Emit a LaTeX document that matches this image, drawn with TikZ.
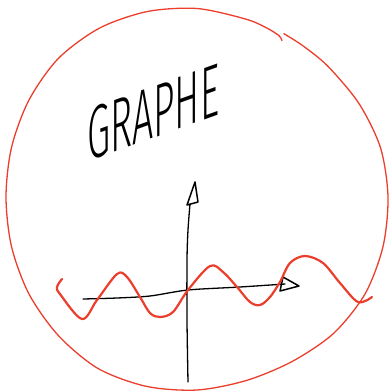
\documentclass[tikz,border=0pt]{standalone}
\usepackage{fontspec}
\IfFontExistsTF{Fira Sans Light}{\newfontfamily\handfont{Fira Sans Light}}{\newfontfamily\handfont{Liberation Sans}}
\definecolor{sketchred}{RGB}{236,62,44}
\tikzset{
  circstroke/.style={draw=sketchred, line width=1.3pt, line cap=round, line join=round},
  wavestroke/.style={draw=sketchred, line width=2.2pt, line cap=round, line join=round},
  axisstroke/.style={draw=black, line width=1.5pt, line cap=round, line join=round},
}
\begin{document}
\begin{tikzpicture}[x=1pt,y=-1pt]
\useasboundingbox (0,0) rectangle (391,392);
% hand-drawn circle (polar points about the centre)
\begin{scope}[shift={(197,197)}]
\draw[circstroke] plot[smooth] coordinates {
  (-61.5:178) (-63:181) (-68:183) (-75:184.5) (-90:188.5) (-105:192) (-120:195)
  (-135:196) (-150:194) (-165:192) (-180:191) (-195:192) (-210:194)
  (-225:196) (-240:198) (-255:196) (-270:193) (-285:190) (-300:190)
  (-315:193) (-330:194) (-345:192.5) (-360:191) (-375:190) (-390:187)
  (-405:185) (-415:184.6) (-422:185)};
\end{scope}
% axes
\coordinate (yb) at (188,382);
\coordinate (yt) at (190,204);
\draw[axisstroke, line width=1.3pt] plot[smooth] coordinates {(188,382) (187,320) (187,260) (188,230) (190,204)};
\draw[axisstroke] (195,182) -- (187,205) -- (198,202) -- cycle;
\draw[axisstroke, line width=1.3pt] plot[smooth] coordinates {(83,299) (117,298) (150,296) (188,290) (240,287) (285,284)};
\draw[axisstroke] (283,277) -- (299,286) -- (280,291) -- cycle;
% sine wave
\draw[wavestroke] plot[smooth, tension=0.55] coordinates {
  (62,279) (57,287) (60,294) (82,319) (97,300) (117,274) (127,277) (140,297)
  (150,313) (160,317) (173,312) (188,290) (210,266) (223,272) (237,287)
  (250,302) (260,305) (270,297) (280,282) (290,263) (305,256) (323,263)
  (340,283) (358,302) (372,297)};
% title
\node[font=\handfont\fontsize{75}{75}\selectfont, inner sep=0pt, anchor=base west,
      transform shape, yslant=0.36, xscale=0.5] (title) at (87,162) {GRAPHE};
\end{tikzpicture}
\end{document}
